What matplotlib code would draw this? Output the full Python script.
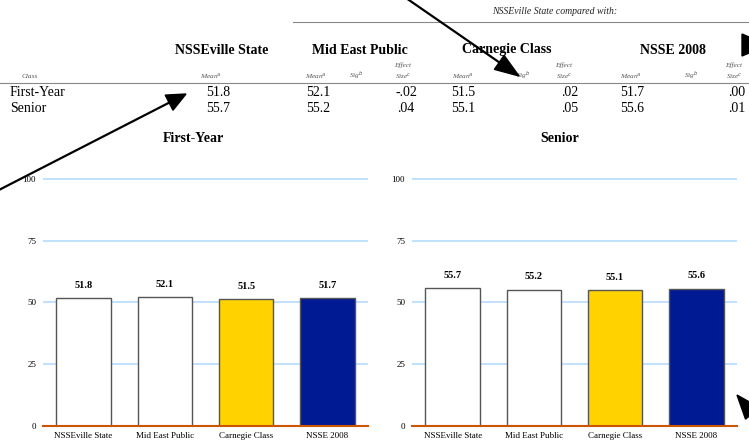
import numpy as np
import matplotlib
matplotlib.use("Agg")
import matplotlib.pyplot as plt
from matplotlib.patches import Polygon

# ---- data ----
groups = ["NSSEville State", "Mid East Public", "Carnegie Class", "NSSE 2008"]
classes = ["First-Year", "Senior"]
first_year = [51.8, 52.1, 51.5, 51.7]
senior = [55.7, 55.2, 55.1, 55.6]
effect_first = ["-.02", ".02", ".00"]
effect_senior = [".04", ".05", ".01"]
bar_colors = ["#ffffff", "#ffffff", "#ffd200", "#001a94"]
yticks = [0, 25, 50, 75, 100]

W, H = 749, 447
plt.rcParams["font.family"] = ["Liberation Serif", "DejaVu Serif"]
fig = plt.figure(figsize=(W / 100, H / 100), dpi=100)


def fx(px):
    return px / W


def fy(py):
    return 1 - py / H


def txt(x, y, s, **kw):
    fig.text(fx(x), fy(y), s, **kw)


# =========================
# table at the top
# =========================
txt(555, 12, "NSSEville State compared with:", fontsize=7, style="italic",
    ha="center", va="center", color="#222222")
fig.add_artist(plt.Line2D([fx(293), fx(749)], [fy(22), fy(22)], color="#888888", lw=0.8))

head_x = [222, 360, 507, 673]
for x, g in zip(head_x, groups):
    txt(x, 50, g, fontsize=10, fontweight="bold", ha="center", va="center")

small = dict(fontsize=5.3, style="italic", color="#555555", va="center")
txt(22, 76, "Class", ha="left", **small)
txt(211, 76, "Mean$^{a}$", ha="center", **small)
mean_x = [316, 463, 631]
sig_x = [356, 523, 691]
size_x = [403, 564, 734]
for mx, sx, zx in zip(mean_x, sig_x, size_x):
    txt(mx, 76, "Mean$^{a}$", ha="center", **small)
    txt(sx, 76, "Sig$^{b}$", ha="center", **small)
    txt(zx, 65, "Effect", ha="center", **small)
    txt(zx, 76, "Size$^{c}$", ha="center", **small)
fig.add_artist(plt.Line2D([0, 1], [fy(83), fy(83)], color="#888888", lw=0.8))

val_x = [218, 318, 463, 632]
eff_x = [406, 570, 737]
for row_y, cls, vals, effs in [(92, classes[0], first_year, effect_first),
                               (108, classes[1], senior, effect_senior)]:
    txt(10, row_y, cls, fontsize=10, ha="left", va="center")
    for x, v in zip(val_x, vals):
        txt(x, row_y, f"{v:.1f}", fontsize=10, ha="center", va="center")
    for x, e in zip(eff_x, effs):
        txt(x, row_y, e, fontsize=10, ha="center", va="center")


# =========================
# bar charts
# =========================
def draw_panel(left_px, values, title, title_x):
    ax = fig.add_axes([fx(left_px), fy(426), 325 / W, 250 / H])
    pos = list(range(len(groups)))
    ax.bar(pos, values, width=0.67, color=bar_colors, edgecolor="#555555",
           linewidth=1.0, zorder=3)
    for p, v in zip(pos, values):
        ax.text(p, v + 3.3, f"{v:.1f}", ha="center", va="bottom",
                fontsize=7.5, fontweight="bold")
    ax.set_xlim(-0.5, 3.5)
    ax.set_ylim(0, 101.2)
    ax.set_yticks(yticks)
    ax.set_xticks(pos)
    ax.set_xticklabels(groups, fontsize=6.5)
    ax.tick_params(axis="y", length=0, labelsize=6.5, pad=5)
    ax.tick_params(axis="x", length=0, pad=4)
    ax.grid(axis="y", color="#b5dcff", lw=1.2, zorder=0)
    for s in ["top", "right", "left"]:
        ax.spines[s].set_visible(False)
    ax.spines["bottom"].set_color("#cc5500")
    ax.spines["bottom"].set_linewidth(1.5)
    ax.spines["bottom"].set_zorder(4)
    ax.patch.set_alpha(0)
    txt(title_x, 139, title, fontsize=10, fontweight="bold", ha="center", va="center")
    return ax


draw_panel(43, first_year, "First-Year", 193)
draw_panel(412, senior, "Senior", 560)


# =========================
# overlaid arrows (pixel coords, y from top)
# =========================
def arrow(x0, y0, x1, y1, head_len=20, head_w=16):
    d = np.array([x1 - x0, y1 - y0], dtype=float)
    d /= np.hypot(*d)
    n = np.array([-d[1], d[0]])
    tip = np.array([x1, y1], dtype=float)
    base = tip - d * head_len
    p1 = base + n * head_w / 2
    p2 = base - n * head_w / 2
    fig.add_artist(plt.Line2D([fx(x0), fx(base[0])], [fy(y0), fy(base[1])],
                              color="black", lw=1.6, zorder=10))
    pts = [(fx(p[0]), fy(p[1])) for p in (tip, p1, p2)]
    fig.add_artist(Polygon(pts, closed=True, color="black",
                           transform=fig.transFigure, zorder=10))


arrow(-5, 192, 186, 94, head_len=19, head_w=17)
arrow(406, -2, 519, 76, head_len=24, head_w=17)
arrow(742, 45, 768, 45, head_len=26, head_w=22)   # only the head shows at the edge
arrow(800, 470, 737, 395, head_len=24, head_w=18)

fig.savefig("out.png", dpi=100)
